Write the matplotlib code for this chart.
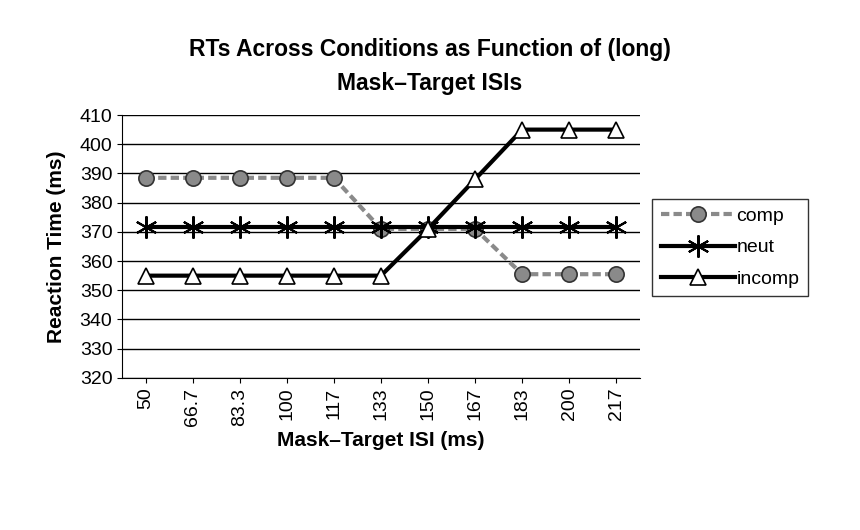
import matplotlib
matplotlib.use("Agg")
import matplotlib.pyplot as plt

isi = ["50", "66.7", "83.3", "100", "117", "133", "150", "167", "183", "200", "217"]
comp = [388.5, 388.5, 388.5, 388.5, 388.5, 371, 371, 371, 355.5, 355.5, 355.5]
neut = [371.5] * 11
incomp = [355, 355, 355, 355, 355, 355, 371, 388, 405, 405, 405]

plt.rcParams['font.family'] = ['Liberation Sans', 'DejaVu Sans']
fig = plt.figure(figsize=(8.6, 5.3), dpi=100)
ax = fig.add_axes([0.142, 0.287, 0.602, 0.496])
x = list(range(len(isi)))
ax.plot(x, comp, color='#8a8a8a', lw=3, ls=(0, (2, 1)), marker='o', ms=11,
        mfc='#8a8a8a', mec='#333333', mew=1.2, label='comp', zorder=3)
ax.plot(x, neut, color='black', lw=3, marker=(6, 2, 0), ms=16, mec='black', mew=1.5,
        label='neut', zorder=4)
ax.plot(x, incomp, color='black', lw=3, marker='^', ms=12, mfc='white', mec='black',
        mew=1.2, label='incomp', zorder=5)
ax.set_ylim(320, 410)
ax.set_yticks(range(320, 411, 10))
ax.set_xlim(-0.5, 10.5)
ax.set_xticks(x)
ax.set_xticklabels(isi, rotation=90, fontsize=14)
ax.tick_params(axis='y', labelsize=14)
ax.yaxis.grid(True, color='black', lw=1)
ax.set_axisbelow(True)
for s in ['top', 'right']:
    ax.spines[s].set_visible(False)
ax.set_xlabel("Mask\u2013Target ISI (ms)", fontsize=15, fontweight='bold')
ax.set_ylabel("Reaction Time (ms)", fontsize=15, fontweight='bold', labelpad=10)
fig.text(0.5, 0.875, "RTs Across Conditions as Function of (long)\nMask\u2013Target ISIs",
         ha='center', va='center', fontsize=16.5, fontweight='bold', linespacing=1.6)
leg = fig.legend(loc='upper left', bbox_to_anchor=(0.758, 0.625), fontsize=14,
                 frameon=True, fancybox=False, edgecolor='black', handlelength=3.8,
                 borderpad=0.45, labelspacing=0.7, handletextpad=0.1, borderaxespad=0)
fig.savefig("out.png", dpi=100, facecolor='white')
